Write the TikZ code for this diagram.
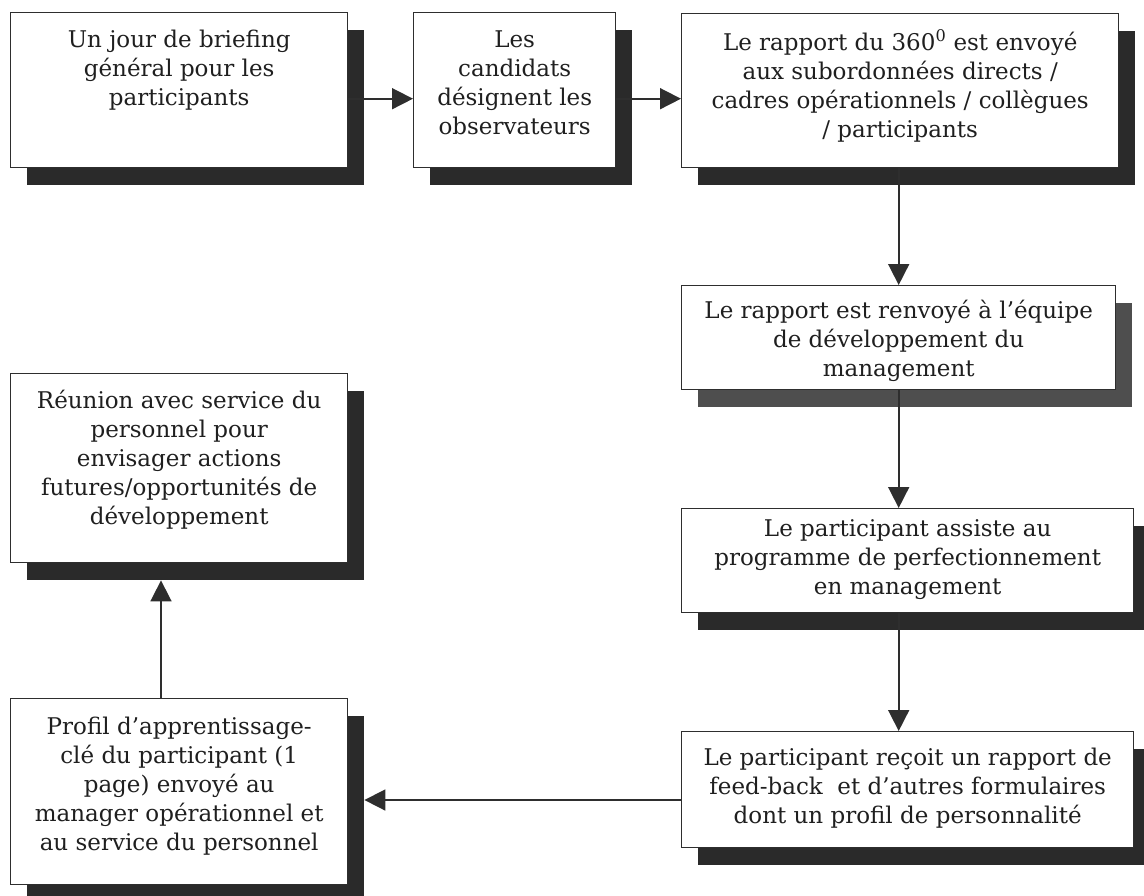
\documentclass[tikz,border=0pt]{standalone}
\usepackage{fontspec}
\setmainfont{DejaVu Serif}
\usetikzlibrary{arrows.meta,shadows}

\definecolor{ink}{HTML}{2E2E2E}
\definecolor{shade}{HTML}{2A2A2A}
\definecolor{shadelight}{HTML}{4E4E4E}

% fixed-size box contents: [top pad]{width}{height}{lines}
\newcommand\cellbox[4][14pt]{\parbox[c][#3][t]{#2}{\centering\vspace*{#1}\strut #4\par}}

\tikzset{
  flowbox/.style={draw=ink, line width=1.4pt, fill=white, inner sep=0pt,
    anchor=north west, text=black!88,
    font=\fontsize{23}{29}\selectfont,
    general shadow={fill=#1, shadow xshift=16pt, shadow yshift=-17pt}},
  flowbox/.default=shade,
  flowarrow/.style={draw=ink, line width=1.7pt,
    -{Triangle[length=21pt,width=21pt]}},
}

\begin{document}
\begin{tikzpicture}[x=1pt,y=-1pt]
\useasboundingbox (0,0) rectangle (1144,895);

\node[flowbox] (b1) at (10,12)
  {\cellbox{337pt}{155pt}{Un jour de briefing\\ général pour les\\ participants}};
\node[flowbox] (b2) at (413,12)
  {\cellbox{202pt}{155pt}{Les\\ candidats\\ désignent les\\ observateurs}};
\node[flowbox] (b3) at (681,13)
  {\cellbox[16pt]{437pt}{154pt}{Le rapport du 360\textsuperscript{0} est envoyé\\ aux subordonnées directs /\\ cadres opérationnels / collègues\\ / participants}};
\node[flowbox=shadelight] (b4) at (681,285)
  {\cellbox[12pt]{434pt}{104pt}{Le rapport est renvoyé à l’équipe\\ de développement du\\ management}};
\node[flowbox] (b5) at (681,508)
  {\cellbox[7pt]{452pt}{104pt}{Le participant assiste au\\ programme de perfectionnement\\ en management}};
\node[flowbox] (b6) at (681,731)
  {\cellbox[13pt]{452pt}{116pt}{Le participant reçoit un rapport de\\ feed-back\ \ et d’autres formulaires\\ dont un profil de personnalité}};
\node[flowbox] (b7) at (10,698)
  {\cellbox[15pt]{337pt}{186pt}{Profil d’apprentissage-\\ clé du participant (1\\ page) envoyé au\\ manager opérationnel et\\ au service du personnel}};
\node[flowbox] (b8) at (10,373)
  {\cellbox[14pt]{337pt}{189pt}{Réunion avec service du\\ personnel pour\\ envisager actions\\ futures/opportunités de\\ développement}};

\coordinate (row) at (0,800);
\coordinate (col) at (161,0);

\draw[flowarrow] ([yshift=-8.5pt]b1.east) -- ([yshift=-8.5pt]b2.west);
\draw[flowarrow] ([yshift=-8.5pt]b2.east) -- ([yshift=-8.5pt]b2.east -| b3.west);
\draw[flowarrow] (b3.south -| b4.north) -- (b4.north);
\draw[flowarrow] (b4.south) -- (b4.south |- b5.north);
\draw[flowarrow] (b5.south -| b4.south) -- (b6.north -| b4.south);
\draw[flowarrow] (b6.west |- row) -- ([xshift=16pt]b7.east |- row);
\draw[flowarrow] (b7.north -| col) -- ([yshift=-17pt]b8.south -| col);
\end{tikzpicture}
\end{document}
